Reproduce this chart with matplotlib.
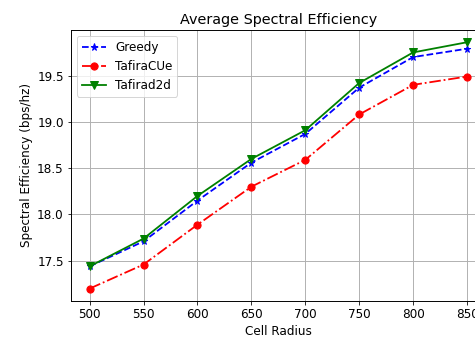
import matplotlib.pyplot as plt

# Average spectral efficiency vs cell radius
radius = [500, 550, 600, 650, 700, 750, 800, 850]
greedy = [17.44, 17.71, 18.15, 18.56, 18.87, 19.37, 19.70, 19.79]
tafira_cue = [17.20, 17.46, 17.89, 18.30, 18.59, 19.08, 19.40, 19.49]
tafira_d2d = [17.44, 17.74, 18.20, 18.60, 18.91, 19.42, 19.75, 19.86]

# reference looks like a default chart shrunk a bit, so scale everything up
s = 1.2
plt.rcParams['font.size'] = 10 * s
plt.rcParams['axes.titlesize'] = 12 * s
plt.rcParams['lines.linewidth'] = 1.5 * s
plt.rcParams['axes.linewidth'] = 0.8 * s
plt.rcParams['grid.linewidth'] = 0.8 * s

fig = plt.figure(figsize=(475 / 72, 340 / 72), dpi=72)
# axes run past the right edge, as in the reference crop
ax = fig.add_axes([0.149, 0.115, 0.874, 0.797])

ax.plot(radius, greedy, 'b--*', markersize=6 * s, label='Greedy')
ax.plot(radius, tafira_cue, 'r-.o', markersize=6 * s, label='TafiraCUe')
ax.plot(radius, tafira_d2d, 'g-v', markersize=6 * s, label='Tafirad2d')

ax.set_title('Average Spectral Efficiency')
ax.set_xlabel('Cell Radius')
ax.set_ylabel('Spectral Efficiency (bps/hz)')
ax.set_xticks(radius)
ax.grid(True)
ax.legend(loc='upper left')

plt.savefig('out.png', dpi=72)
